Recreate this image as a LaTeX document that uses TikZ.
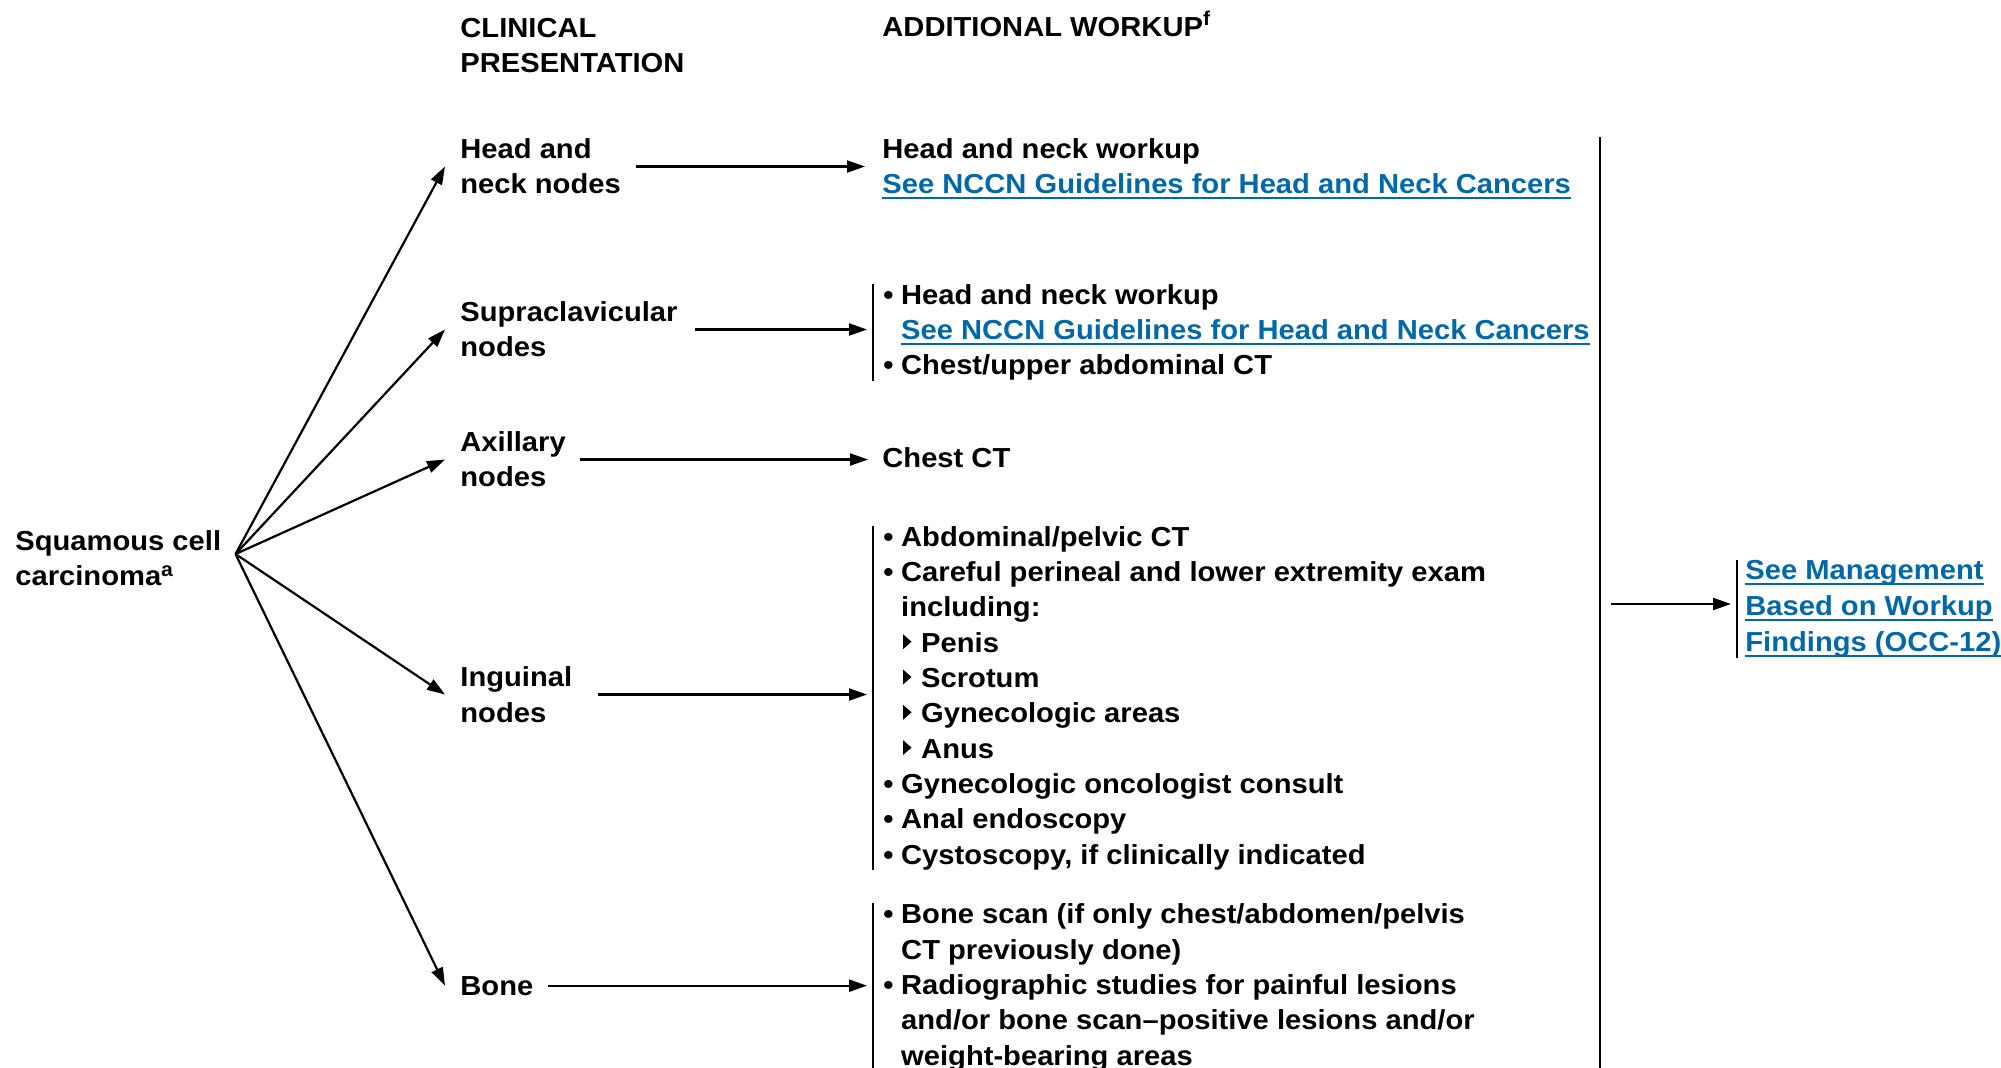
\documentclass[tikz,border=0pt]{standalone}
\usepackage{fontspec}
\setmainfont{Liberation Sans}[FakeStretch=1.06]
\usepackage{graphicx}
\usetikzlibrary{arrows.meta,calc}
\definecolor{linkblue}{RGB}{0,104,166}
% underlined link text with a fixed-offset rule
\newsavebox\linkbox
\newcommand\lnk[1]{\sbox\linkbox{\color{linkblue}#1}{\color{linkblue}\rlap{\rule[-2.6pt]{\wd\linkbox}{1pt}}}\usebox\linkbox}
\newcommand\bul{\makebox[8.9pt][l]{•}}
\newcommand\ind{\hspace*{8.9pt}}
\newcommand\tri{\hspace*{10pt}}
\newcommand\sups[2]{\raisebox{#1}{\fontsize{10pt}{10pt}\selectfont #2}}
\begin{document}
\begin{tikzpicture}[x=0.5pt,y=-0.5pt,
  txt/.style={inner sep=0pt, anchor=base west, align=left,
    font=\fontsize{13.75pt}{17.65pt}\selectfont\bfseries},
  brk/.style={txt, inner xsep=5pt},
  arr/.style={line width=1.1pt, -{Triangle[length=9pt,width=6pt]}},
  bracket/.style={line width=1pt}]
\useasboundingbox (0,0) rectangle (2001,1068);

% column headings (positions give the baseline of the last line)
\node[txt] (hclin) at (460,73) {CLINICAL\\PRESENTATION};
\node[txt] (hwork) at (882,37) {ADDITIONAL WORKUP\sups{5.5pt}{f}};

% starting diagnosis
\node[txt] (sq) at (15,586) {Squamous cell\\carcinoma\sups{4.5pt}{a}};

% clinical presentation
\node[txt] (hn) at (460,194) {Head and\\neck nodes};
\node[txt] (sc) at (460,357) {Supraclavicular\\nodes};
\node[txt] (ax) at (460,487) {Axillary\\nodes};
\node[txt] (ig) at (460,722) {Inguinal\\nodes};
\node[txt] (bn) at (460,995) {Bone};

% additional workup
\node[txt] (whn) at (882,194) {Head and neck workup\\\lnk{See NCCN Guidelines for Head and Neck Cancers}};
\node[brk] (wsc) at (873,375) {\bul Head and neck workup\\
  \ind\lnk{See NCCN Guidelines for Head and Neck Cancers}\\
  \bul Chest/upper abdominal CT};
\node[txt] (wax) at (882,468) {Chest CT};
\node[brk] (wig) at (873,864) {\bul Abdominal/pelvic CT\\
  \bul Careful perineal and lower extremity exam\\
  \ind including:\\
  \ind\tri Penis\\
  \ind\tri Scrotum\\
  \ind\tri Gynecologic areas\\
  \ind\tri Anus\\
  \bul Gynecologic oncologist consult\\
  \bul Anal endoscopy\\
  \bul Cystoscopy, if clinically indicated};
\node[brk] (wbn) at (873,1065) {\bul Bone scan (if only chest/abdomen/pelvis\\
  \ind CT previously done)\\
  \bul Radiographic studies for painful lesions\\
  \ind and/or bone scan–positive lesions and/or\\
  \ind weight-bearing areas};

% sub-item markers of the inguinal list (lines 4 to 7)
\foreach \k in {3,...,6}
  \fill ($(wig.base west)+(30,{-(9-\k)*35.3-3})$) -- ++(0,-15) -- ++(8.5,7.5) -- cycle;

% brackets grouping the workup lists
\draw[bracket] (wsc.north west) -- (wsc.south west);
\draw[bracket] (wig.north west) -- (wig.south west);
\draw[bracket] (wbn.north west) -- ([yshift=-20pt]wbn.south west);

% fan from the diagnosis to each presentation
\coordinate (fan) at ([xshift=7pt,yshift=2.25pt]sq.east);
\foreach \t in {hn,sc,ax,ig,bn}
  \draw[arr] (fan) -- ([xshift=-7.5pt]\t.west);

% presentation -> workup
\draw[arr] ([xshift=7.5pt]hn.east) -- ([xshift=-8.5pt]hn.east -| whn.west);
\draw[arr] ([xshift=8.5pt]sc.east) -- ([xshift=-3pt]sc.east -| wsc.west);
\draw[arr] ([xshift=7pt]ax.east) -- ([xshift=-7pt]ax.east -| wax.west);
\draw[arr] ([xshift=12.5pt]ig.east) -- ([xshift=-3pt]ig.east -| wig.west);
\draw[arr] ([xshift=7pt]bn.east) -- ([xshift=-3pt]bn.east -| wbn.west);

% collecting line and management link
\coordinate (bustop) at (1600,137);
\coordinate (busend) at (1600,1080);
\draw[line width=1.2pt] (bustop) -- (busend);
\node[txt, inner xsep=4pt, font=\fontsize{13.75pt}{18.15pt}\selectfont\bfseries]
  (mg) at (1737,652) {\lnk{See Management}\\\lnk{Based on Workup}\\\lnk{Findings (OCC-12)}};
\draw[bracket] (mg.north west) -- (mg.south west);
\coordinate (busout) at (1611,604);
\draw[arr] (busout) -- ([xshift=-3pt]busout -| mg.west);
\end{tikzpicture}
\end{document}
